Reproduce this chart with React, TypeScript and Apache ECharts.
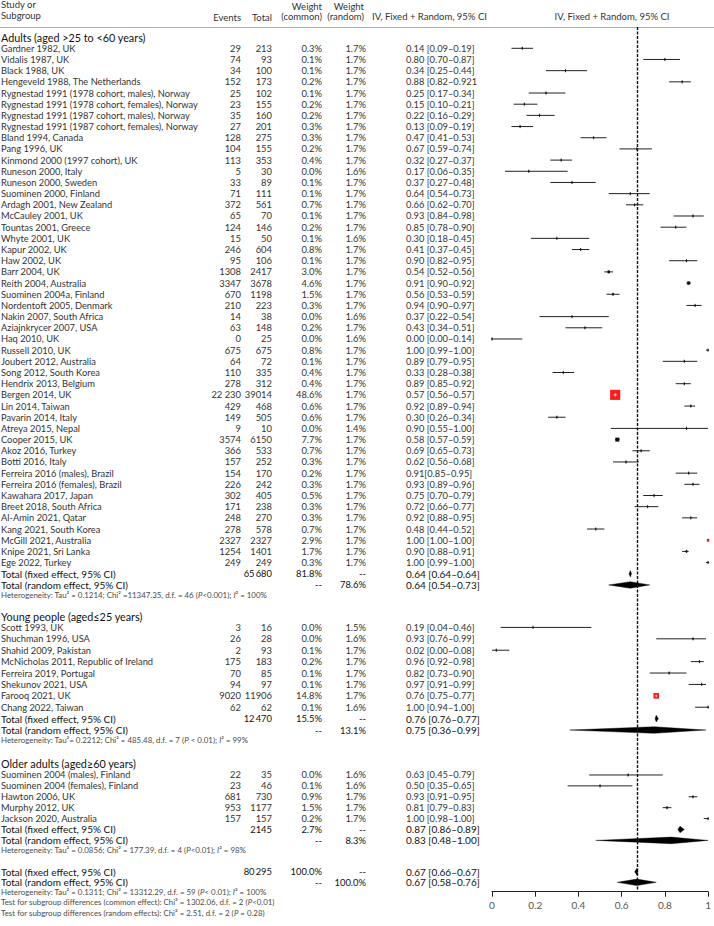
import React, { useEffect, useRef } from "react";
import * as echarts from "echarts";

// name, events, total, weight common (%), weight random (%), estimate, lower, upper
type Study = [string, string, string, number, number, number, number, number];

const adultStudies: Study[] = [
  ["Gardner 1982, UK", "29", "213", 0.3, 1.7, 0.14, 0.09, 0.19],
  ["Vidalis 1987, UK", "74", "93", 0.1, 1.7, 0.8, 0.7, 0.87],
  ["Black 1988, UK", "34", "100", 0.1, 1.7, 0.34, 0.25, 0.44],
  ["Hengeveld 1988, The Netherlands", "152", "173", 0.2, 1.7, 0.88, 0.82, 0.92],
  ["Rygnestad 1991 (1978 cohort, males), Norway", "25", "102", 0.1, 1.7, 0.25, 0.17, 0.34],
  ["Rygnestad 1991 (1978 cohort, females), Norway", "23", "155", 0.2, 1.7, 0.15, 0.1, 0.21],
  ["Rygnestad 1991 (1987 cohort, males), Norway", "35", "160", 0.2, 1.7, 0.22, 0.16, 0.29],
  ["Rygnestad 1991 (1987 cohort, females), Norway", "27", "201", 0.3, 1.7, 0.13, 0.09, 0.19],
  ["Bland 1994, Canada", "128", "275", 0.3, 1.7, 0.47, 0.41, 0.53],
  ["Pang 1996, UK", "104", "155", 0.2, 1.7, 0.67, 0.59, 0.74],
  ["Kinmond 2000 (1997 cohort), UK", "113", "353", 0.4, 1.7, 0.32, 0.27, 0.37],
  ["Runeson 2000, Italy", "5", "30", 0.0, 1.6, 0.17, 0.06, 0.35],
  ["Runeson 2000, Sweden", "33", "89", 0.1, 1.7, 0.37, 0.27, 0.48],
  ["Suominen 2000, Finland", "71", "111", 0.1, 1.7, 0.64, 0.54, 0.73],
  ["Ardagh 2001, New Zealand", "372", "561", 0.7, 1.7, 0.66, 0.62, 0.7],
  ["McCauley 2001, UK", "65", "70", 0.1, 1.7, 0.93, 0.84, 0.98],
  ["Tountas 2001, Greece", "124", "146", 0.2, 1.7, 0.85, 0.78, 0.9],
  ["Whyte 2001, UK", "15", "50", 0.1, 1.6, 0.3, 0.18, 0.45],
  ["Kapur 2002, UK", "246", "604", 0.8, 1.7, 0.41, 0.37, 0.45],
  ["Haw 2002, UK", "95", "106", 0.1, 1.7, 0.9, 0.82, 0.95],
  ["Barr 2004, UK", "1308", "2417", 3.0, 1.7, 0.54, 0.52, 0.56],
  ["Reith 2004, Australia", "3347", "3678", 4.6, 1.7, 0.91, 0.9, 0.92],
  ["Suominen 2004a, Finland", "670", "1198", 1.5, 1.7, 0.56, 0.53, 0.59],
  ["Nordentoft 2005, Denmark", "210", "223", 0.3, 1.7, 0.94, 0.9, 0.97],
  ["Nakin 2007, South Africa", "14", "38", 0.0, 1.6, 0.37, 0.22, 0.54],
  ["Aziajnkrycer 2007, USA", "63", "148", 0.2, 1.7, 0.43, 0.34, 0.51],
  ["Haq 2010, UK", "0", "25", 0.0, 1.6, 0.0, 0.0, 0.14],
  ["Russell 2010, UK", "675", "675", 0.8, 1.7, 1.0, 0.99, 1.0],
  ["Joubert 2012, Australia", "64", "72", 0.1, 1.7, 0.89, 0.79, 0.95],
  ["Song 2012, South Korea", "110", "335", 0.4, 1.7, 0.33, 0.28, 0.38],
  ["Hendrix 2013, Belgium", "278", "312", 0.4, 1.7, 0.89, 0.85, 0.92],
  ["Bergen 2014, UK", "22 230", "39014", 48.6, 1.7, 0.57, 0.56, 0.57],
  ["Lin 2014, Taiwan", "429", "468", 0.6, 1.7, 0.92, 0.89, 0.94],
  ["Pavarin 2014, Italy", "149", "505", 0.6, 1.7, 0.3, 0.26, 0.34],
  ["Atreya 2015, Nepal", "9", "10", 0.0, 1.4, 0.9, 0.55, 1.0],
  ["Cooper 2015, UK", "3574", "6150", 7.7, 1.7, 0.58, 0.57, 0.59],
  ["Akoz 2016, Turkey", "366", "533", 0.7, 1.7, 0.69, 0.65, 0.73],
  ["Botti 2016, Italy", "157", "252", 0.3, 1.7, 0.62, 0.56, 0.68],
  ["Ferreira 2016 (males), Brazil", "154", "170", 0.2, 1.7, 0.91, 0.85, 0.95],
  ["Ferreira 2016 (females), Brazil", "226", "242", 0.3, 1.7, 0.93, 0.89, 0.96],
  ["Kawahara 2017, Japan", "302", "405", 0.5, 1.7, 0.75, 0.7, 0.79],
  ["Breet 2018, South Africa", "171", "238", 0.3, 1.7, 0.72, 0.66, 0.77],
  ["Al-Amin 2021, Qatar", "248", "270", 0.3, 1.7, 0.92, 0.88, 0.95],
  ["Kang 2021, South Korea", "278", "578", 0.7, 1.7, 0.48, 0.44, 0.52],
  ["McGill 2021, Australia", "2327", "2327", 2.9, 1.7, 1.0, 1.0, 1.0],
  ["Knipe 2021, Sri Lanka", "1254", "1401", 1.7, 1.7, 0.9, 0.88, 0.91],
  ["Ege 2022, Turkey", "249", "249", 0.3, 1.7, 1.0, 0.99, 1.0],
];

const youngStudies: Study[] = [
  ["Scott 1993, UK", "3", "16", 0.0, 1.5, 0.19, 0.04, 0.46],
  ["Shuchman 1996, USA", "26", "28", 0.0, 1.6, 0.93, 0.76, 0.99],
  ["Shahid 2009, Pakistan", "2", "93", 0.1, 1.7, 0.02, 0.0, 0.08],
  ["McNicholas 2011, Republic of Ireland", "175", "183", 0.2, 1.7, 0.96, 0.92, 0.98],
  ["Ferreira 2019, Portugal", "70", "85", 0.1, 1.7, 0.82, 0.73, 0.9],
  ["Shekunov 2021, USA", "94", "97", 0.1, 1.7, 0.97, 0.91, 0.99],
  ["Farooq 2021, UK", "9020", "11906", 14.8, 1.7, 0.76, 0.75, 0.77],
  ["Chang 2022, Taiwan", "62", "62", 0.1, 1.6, 1.0, 0.94, 1.0],
];

const olderStudies: Study[] = [
  ["Suominen 2004 (males), Finland", "22", "35", 0.0, 1.6, 0.63, 0.45, 0.79],
  ["Suominen 2004 (females), Finland", "23", "46", 0.1, 1.6, 0.5, 0.35, 0.65],
  ["Hawton 2006, UK", "681", "730", 0.9, 1.7, 0.93, 0.91, 0.95],
  ["Murphy 2012, UK", "953", "1177", 1.5, 1.7, 0.81, 0.79, 0.83],
  ["Jackson 2020, Australia", "157", "157", 0.2, 1.7, 1.0, 0.98, 1.0],
];

const highlighted = ["Bergen 2014, UK", "Farooq 2021, UK", "McGill 2021, Australia"];
const ciTextOverrides: Record<string, string> = {
  "Hengeveld 1988, The Netherlands": "0.88 [0.82\u20130.921",
  "Ferreira 2016 (males), Brazil": "0.91[0.85\u20130.95]",
};

const groupHeaders = [
  "Adults (aged >25 to <60 years)",
  "Young people (aged\u226425 years)",
  "Older adults (aged\u226560 years)",
];
const groupTotalN = ["65\u2009680", "12\u2009470", "2145"];
// weight, estimate, lower, upper
const groupFixed = [
  [81.8, 0.64, 0.64, 0.64],
  [15.5, 0.76, 0.76, 0.77],
  [2.7, 0.87, 0.86, 0.89],
];
const groupRandom = [
  [78.6, 0.64, 0.54, 0.73],
  [13.1, 0.75, 0.36, 0.99],
  [8.3, 0.83, 0.48, 1.0],
];
const groupHet = [
  "Heterogeneity: Tau\u00b2 = 0.1214; Chi\u00b2 =11347.35, d.f. = 46 ({i|P}<0.001); {i|I}\u00b2 = 100%",
  "Heterogeneity: Tau\u00b2= 0.2212; Chi\u00b2 = 485.48, d.f. = 7 ({i|P} < 0.01); {i|I}\u00b2 = 99%",
  "Heterogeneity: Tau\u00b2 = 0.0856; Chi\u00b2 = 177.39, d.f. = 4 ({i|P}<0.01); {i|I}\u00b2 = 98%",
];
const overallTotalN = "80\u2009295";
const overallFixed = [100.0, 0.67, 0.66, 0.67];
const overallRandom = [100.0, 0.67, 0.58, 0.76];
const footerLines = [
  "Heterogeneity: Tau\u00b2 = 0.1311; Chi\u00b2 = 13312.29, d.f. = 59 ({i|P}< 0.01); {i|I}\u00b2 = 100%",
  "Test for subgroup differences (common effect): Chi\u00b2 = 1302.06, d.f. = 2 ({i|P}<0.01)",
  "Test for subgroup differences (random effects): Chi\u00b2 = 2.51, d.f. = 2 ({i|P} = 0.28)",
];
const xTicks = [0, 0.2, 0.4, 0.6, 0.8, 1];

// ---------- layout (row positions in row units) ----------
const groupLayout = [
  { head: -1, start: 0, step: 1 },
  { head: 50.85, start: 51.8, step: 1.02 },
  { head: 63.95, start: 65, step: 0.975 },
];
const overallLayout = { fixed: 73.65, random: 74.6, lines: [75.47, 76.4, 77.32] };
const Y_MIN = -1.905;
const Y_MAX = 75.44;

const FONT = "Lato, 'Liberation Sans', sans-serif";
const COL = { name: 1, events: 241, total: 272, wc: 322, wr: 366, ci: 406 };

const fmtCI = (e: number, lo: number, hi: number) =>
  `${e.toFixed(2)} [${lo.toFixed(2)}\u2013${hi.toFixed(2)}]`;
const pct = (w: number) => `${w.toFixed(1)}%`;

type Row = {
  y: number;
  kind: "study" | "header" | "total" | "het";
  name: string;
  events?: string;
  total?: string;
  wc?: string;
  wr?: string;
  ci?: string;
};

const rows: Row[] = [];
const studyMarks: number[][] = [];
const diamonds: number[][] = [];
const groups = [adultStudies, youngStudies, olderStudies];

groups.forEach((studies, gi) => {
  const L = groupLayout[gi];
  rows.push({ y: L.head, kind: "header", name: groupHeaders[gi] });
  studies.forEach((s, i) => {
    const y = L.start + i * L.step;
    rows.push({
      y,
      kind: "study",
      name: s[0],
      events: s[1],
      total: s[2],
      wc: pct(s[3]),
      wr: pct(s[4]),
      ci: ciTextOverrides[s[0]] ?? fmtCI(s[5], s[6], s[7]),
    });
    studyMarks.push([s[5], y, s[6], s[7], s[3], highlighted.includes(s[0]) ? 1 : 0]);
  });
  const yf = L.start + studies.length * L.step;
  const yr = yf + L.step;
  const f = groupFixed[gi];
  const r = groupRandom[gi];
  rows.push({ y: yf, kind: "total", name: "Total (fixed effect, 95% CI)", total: groupTotalN[gi], wc: pct(f[0]), wr: "--", ci: fmtCI(f[1], f[2], f[3]) });
  rows.push({ y: yr, kind: "total", name: "Total (random effect, 95% CI)", wc: "--", wr: pct(r[0]), ci: fmtCI(r[1], r[2], r[3]) });
  rows.push({ y: yr + 0.88, kind: "het", name: groupHet[gi] });
  diamonds.push([f[1], yf, f[2], f[3]]);
  diamonds.push([r[1], yr, r[2], r[3]]);
});
rows.push({ y: overallLayout.fixed, kind: "total", name: "Total (fixed effect, 95% CI)", total: overallTotalN, wc: pct(overallFixed[0]), wr: "--", ci: fmtCI(overallFixed[1], overallFixed[2], overallFixed[3]) });
rows.push({ y: overallLayout.random, kind: "total", name: "Total (random effect, 95% CI)", wc: "--", wr: pct(overallRandom[0]), ci: fmtCI(overallRandom[1], overallRandom[2], overallRandom[3]) });
footerLines.forEach((t, i) => rows.push({ y: overallLayout.lines[i], kind: "het", name: t }));
diamonds.push([overallFixed[1], overallLayout.fixed, overallFixed[2], overallFixed[3]]);
diamonds.push([overallRandom[1], overallLayout.random, overallRandom[2], overallRandom[3]]);

function txt(x: number, y: number, text: string, align: string, size: number, color: string, rich?: boolean) {
  const style: any = {
    text,
    fill: color,
    fontSize: size,
    fontFamily: FONT,
    align,
    verticalAlign: "middle",
  };
  if (rich) {
    style.rich = { i: { fontStyle: "italic", fontSize: size, fontFamily: FONT, fill: color } };
  }
  return { type: "text", x, y, style, silent: true };
}

const tableRender = (params: any, api: any) => {
  const r = rows[params.dataIndex];
  const py = api.coord([0, r.y])[1];
  const children: any[] = [];
  if (r.kind === "het") {
    children.push(txt(COL.name, py, r.name, "left", 7.9, "#4a4a4a", true));
    return { type: "group", children };
  }
  const nameSize = r.kind === "study" ? 9.3 : r.kind === "header" ? 10.8 : 10;
  const ciSize = r.kind === "study" ? 9.3 : 10;
  const color = r.kind === "study" ? "#333" : "#111";
  children.push(txt(COL.name, py, r.name, "left", nameSize, color));
  if (r.events) children.push(txt(COL.events, py, r.events, "right", 9.4, color));
  if (r.total) children.push(txt(COL.total, py, r.total, "right", 9.4, color));
  if (r.wc) children.push(txt(COL.wc, py, r.wc, "right", 9.4, color));
  if (r.wr) children.push(txt(COL.wr, py, r.wr, "right", 9.4, color));
  if (r.ci) children.push(txt(COL.ci, py, r.ci, "left", ciSize, color));
  return { type: "group", children };
};

const studyRender = (params: any, api: any) => {
  const y = api.value(1);
  const p = api.coord([api.value(0), y]);
  const lo = api.coord([api.value(2), y]);
  const hi = api.coord([api.value(3), y]);
  const w = api.value(4);
  const hl = api.value(5) === 1;
  const s = Math.max(1.4, 1.45 * Math.sqrt(w));
  const color = hl ? "#ff1a1a" : "#111";
  const children: any[] = [
    { type: "line", shape: { x1: lo[0], y1: p[1], x2: hi[0], y2: p[1] }, style: { stroke: "#222", lineWidth: 1 } },
    { type: "line", shape: { x1: p[0], y1: p[1] - 1.6, x2: p[0], y2: p[1] + 1.6 }, style: { stroke: "#222", lineWidth: 0.9 } },
    { type: "rect", shape: { x: p[0] - s / 2, y: p[1] - s / 2, width: s, height: s }, style: { fill: color } },
  ];
  if (hl && s > 4) {
    const a = Math.max(1, s * 0.16);
    children.push({ type: "line", shape: { x1: p[0] - a, y1: p[1], x2: p[0] + a, y2: p[1] }, style: { stroke: "#fff", lineWidth: 0.8 } });
    children.push({ type: "line", shape: { x1: p[0], y1: p[1] - a, x2: p[0], y2: p[1] + a }, style: { stroke: "#fff", lineWidth: 0.8 } });
  }
  return { type: "group", children };
};

const diamondRender = (params: any, api: any) => {
  const y = api.value(1);
  const p = api.coord([api.value(0), y]);
  const lo = api.coord([api.value(2), y]);
  const hi = api.coord([api.value(3), y]);
  const h = 3.3;
  const l = Math.min(lo[0], p[0] - 1.2);
  const r = Math.max(hi[0], p[0] + 1.2);
  return {
    type: "polygon",
    shape: { points: [[l, p[1]], [p[0], p[1] - h], [r, p[1]], [p[0], p[1] + h]] },
    style: { fill: "#000", stroke: "#000", lineWidth: 0.4 },
  };
};

const headerText = (x: number, y: number, text: string, align: string) => ({
  type: "text",
  x,
  y,
  silent: true,
  style: { text, fill: "#333", fontSize: 9.5, fontFamily: FONT, align, verticalAlign: "middle" },
});

const option: any = {
  animation: false,
  grid: { left: 492, right: 2, top: 27, bottom: 34.3, containLabel: false },
  xAxis: {
    type: "value",
    min: 0,
    max: 1,
    interval: 0.2,
    axisLine: { show: true, onZero: false, lineStyle: { color: "#222", width: 1 } },
    axisTick: { show: true, length: 5, lineStyle: { color: "#222" } },
    splitLine: { show: false },
    axisLabel: {
      margin: 8,
      fontSize: 10,
      fontFamily: FONT,
      color: "#555",
      formatter: (v: number) => {
        const t = xTicks.find((k) => Math.abs(k - v) < 1e-9);
        return t === undefined ? "" : String(t);
      },
    },
  },
  yAxis: { type: "value", inverse: true, min: Y_MIN, max: Y_MAX, show: false },
  graphic: [
    headerText(1, 4, "Study or", "left"),
    headerText(1, 15.5, "Subgroup", "left"),
    headerText(COL.events, 17.5, "Events", "right"),
    headerText(COL.total, 17.5, "Total", "right"),
    headerText(COL.wc, 6, "Weight", "right"),
    headerText(COL.wc, 16.5, "(common)", "right"),
    headerText(364, 6, "Weight", "right"),
    headerText(364, 16.5, "(random)", "right"),
    headerText(372, 16, "IV, Fixed + Random, 95% CI", "left"),
    headerText(612, 16, "IV, Fixed + Random, 95% CI", "center"),
    { type: "line", silent: true, shape: { x1: 0, y1: 27.5, x2: 714, y2: 27.5 }, style: { stroke: "#999", lineWidth: 0.8 } },
  ],
  series: [
    {
      type: "custom",
      name: "table",
      silent: true,
      clip: false,
      renderItem: tableRender,
      data: rows.map((r, i) => [0, r.y, i]),
      encode: { x: 0, y: 1 },
      z: 1,
    },
    {
      type: "custom",
      name: "studies",
      silent: true,
      clip: false,
      renderItem: studyRender,
      data: studyMarks,
      encode: { x: 0, y: 1 },
      z: 3,
      markLine: {
        silent: true,
        symbol: ["none", "none"],
        label: { show: false },
        lineStyle: { color: "#111", width: 1.4, type: [3, 1.5] },
        data: [{ xAxis: overallRandom[1] }],
      },
    },
    {
      type: "custom",
      name: "summaries",
      silent: true,
      clip: false,
      renderItem: diamondRender,
      data: diamonds,
      encode: { x: 0, y: 1 },
      z: 4,
    },
  ],
};

export default function App() {
  const ref = useRef<HTMLDivElement>(null);
  useEffect(() => {
    document.body.style.margin = "0";
    const chart = echarts.init(ref.current as HTMLDivElement, null, { renderer: "svg" });
    chart.setOption(option);
    return () => chart.dispose();
  }, []);
  return <div ref={ref} style={{ width: 714, height: 926 }} />;
}
